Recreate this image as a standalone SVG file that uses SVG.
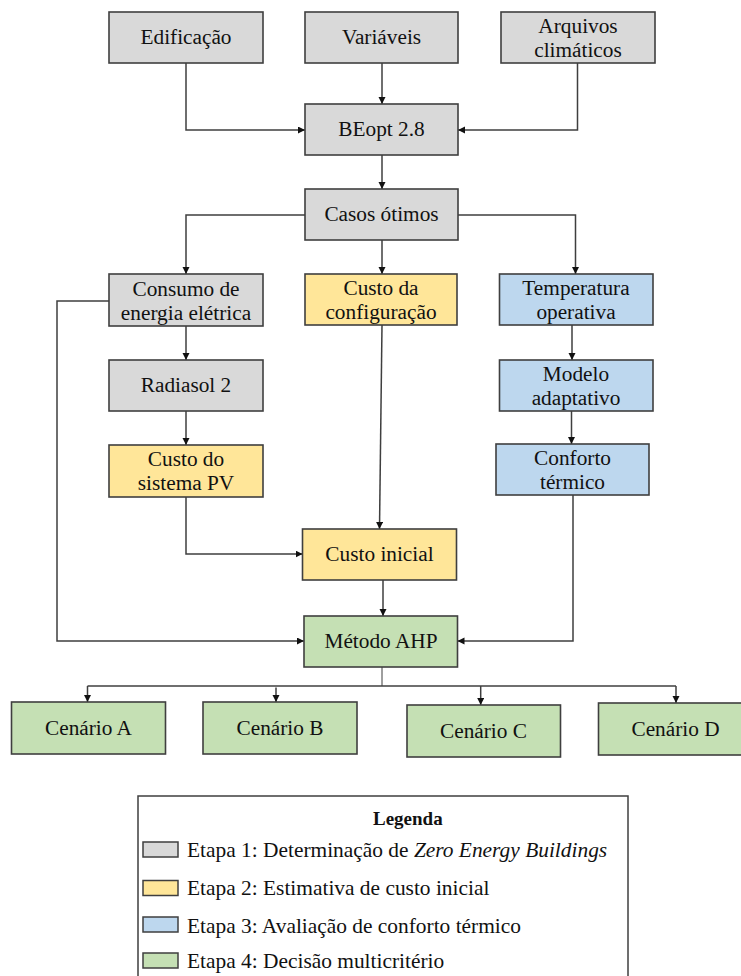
<svg xmlns="http://www.w3.org/2000/svg" width="741" height="976" viewBox="0 0 741 976" font-family="'Liberation Serif', 'Times New Roman', Tinos, 'DejaVu Serif', serif">
<defs>
<style>
.n rect{stroke:#3f3f3f;stroke-width:1.6}
.g{fill:#d9d9d9}.y{fill:#ffe699}.b{fill:#bdd7ee}.gr{fill:#c5e0b4}
text{font-family:'Liberation Serif','Times New Roman',Tinos,'DejaVu Serif',serif;font-size:21.3px;fill:#111}
.n text{text-anchor:middle}
.c path{fill:none;stroke:#3f3f3f;stroke-width:1.5}
.c path.a{marker-end:url(#ah)}
.c path.thin{stroke-width:1}
.leg{fill:#fff;stroke:#3f3f3f;stroke-width:1.5}
.sw{stroke:#3f3f3f;stroke-width:1.5}
</style>
<marker id="ah" markerWidth="8" markerHeight="8" refX="7" refY="3.5" orient="auto" markerUnits="userSpaceOnUse">
<path d="M0,0 L7,3.5 L0,7 Z" fill="#111"/>
</marker>
</defs>
<rect width="741" height="976" fill="#fff"/>
<g class="c" id="connectors">
<path class="a" d="M186,63 V130 H305"/>
<path class="a" d="M382,63 V104"/>
<path class="a" d="M577.5,63 V130 H458"/>
<path class="a" d="M382,155 V189"/>
<path class="a" d="M305,215 H186 V274"/>
<path class="a" d="M382,240 V274"/>
<path class="a" d="M458,215 H575.5 V274"/>
<path class="a" d="M186,326 V360"/>
<path class="a" d="M186,411 V445"/>
<path class="a" d="M572,325 V360"/>
<path class="a" d="M571.5,411 V444"/>
<path class="a" d="M382,325 L379.5,529"/>
<path class="a" d="M186,497 V554 H302.5"/>
<path class="a" d="M109,301 H57 V641 H304"/>
<path class="a" d="M573,495 V641 H457.5"/>
<path class="a" d="M383,580 V616"/>
<path class="thin" d="M382,667 V686"/>
<path d="M87.5,686 H676"/>
<path class="a" d="M87.5,686 V702"/>
<path class="a" d="M276,687.5 V702"/>
<path class="a" d="M480.7,686 V705"/>
<path class="a" d="M676,686 V703"/>
</g>
<g class="n" id="edificacao"><rect class="g" x="109" y="12" width="154" height="51"/><text x="186" y="44">Edificação</text></g>
<g class="n" id="variaveis"><rect class="g" x="305" y="12" width="153" height="51"/><text x="381.5" y="44">Variáveis</text></g>
<g class="n" id="arquivos"><rect class="g" x="501" y="12" width="154" height="51"/><text x="578" y="33">Arquivos</text><text x="578" y="57">climáticos</text></g>
<g class="n" id="beopt"><rect class="g" x="305" y="104" width="153" height="51"/><text x="381.5" y="136">BEopt 2.8</text></g>
<g class="n" id="casos"><rect class="g" x="305" y="189" width="153" height="51"/><text x="381.5" y="221">Casos ótimos</text></g>
<g class="n" id="consumo"><rect class="g" x="109" y="274" width="154" height="52"/><text x="186" y="296">Consumo de</text><text x="186" y="320">energia elétrica</text></g>
<g class="n" id="config"><rect class="y" x="305" y="274" width="152" height="51"/><text x="381" y="295">Custo da</text><text x="381" y="319">configuração</text></g>
<g class="n" id="temperatura"><rect class="b" x="499.5" y="274" width="153.5" height="51"/><text x="576" y="295">Temperatura</text><text x="576" y="319">operativa</text></g>
<g class="n" id="radiasol"><rect class="g" x="109" y="360" width="154" height="51"/><text x="186" y="392">Radiasol 2</text></g>
<g class="n" id="modelo"><rect class="b" x="499.5" y="360" width="153.5" height="51"/><text x="576" y="381">Modelo</text><text x="576" y="405">adaptativo</text></g>
<g class="n" id="pv"><rect class="y" x="109" y="445" width="154" height="52"/><text x="186" y="466">Custo do</text><text x="186" y="490">sistema PV</text></g>
<g class="n" id="conforto"><rect class="b" x="496" y="444" width="153" height="51"/><text x="572.5" y="465">Conforto</text><text x="572.5" y="489">térmico</text></g>
<g class="n" id="inicial"><rect class="y" x="302.5" y="529" width="154" height="51"/><text x="379.5" y="561">Custo inicial</text></g>
<g class="n" id="ahp"><rect class="gr" x="304" y="616" width="153.5" height="51"/><text x="381" y="648">Método AHP</text></g>
<g class="n" id="cenA"><rect class="gr" x="11.5" y="702" width="154" height="52"/><text x="88.5" y="735">Cenário A</text></g>
<g class="n" id="cenB"><rect class="gr" x="203" y="702" width="154" height="52"/><text x="280" y="735">Cenário B</text></g>
<g class="n" id="cenC"><rect class="gr" x="407" y="705" width="153.5" height="52"/><text x="483.5" y="738">Cenário C</text></g>
<g class="n" id="cenD"><rect class="gr" x="598.5" y="703" width="154" height="52"/><text x="675.5" y="736">Cenário D</text></g>
<g id="legenda">
<rect class="leg" x="138" y="796" width="490" height="200"/>
<text x="373" y="825" style="font-weight:bold;font-size:19px">Legenda</text>
<rect class="sw g" x="143" y="842" width="35" height="15"/>
<text x="187" y="857" style="font-size:21.4px">Etapa 1: Determinação de <tspan font-style="italic">Zero Energy Buildings</tspan></text>
<rect class="sw y" x="143" y="880.5" width="35" height="15"/>
<text x="187" y="895" style="font-size:21.4px">Etapa 2: Estimativa de custo inicial</text>
<rect class="sw b" x="143" y="917" width="35" height="15"/>
<text x="187" y="932.5" style="font-size:21.4px">Etapa 3: Avaliação de conforto térmico</text>
<rect class="sw gr" x="143" y="953" width="35" height="15"/>
<text x="187" y="967.5" style="font-size:21.4px">Etapa 4: Decisão multicritério</text>
</g>
</svg>
